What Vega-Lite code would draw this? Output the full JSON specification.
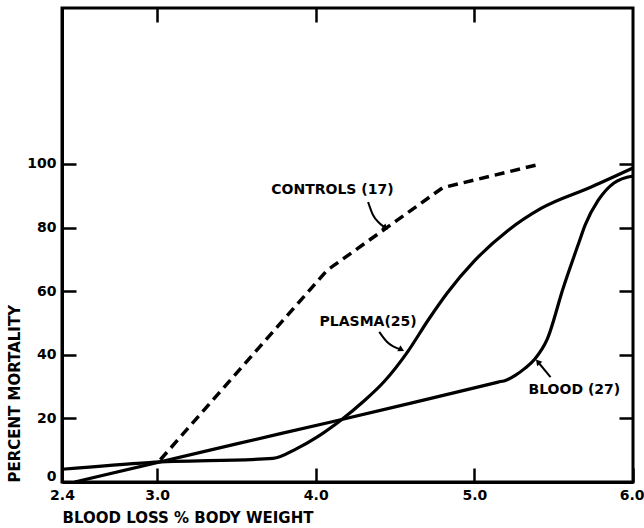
{
  "$schema": "https://vega.github.io/schema/vega-lite/v6.json",
  "width": 571,
  "height": 474,
  "autosize": {"type": "none"},
  "padding": {"left": 62, "top": 8, "right": 11, "bottom": 46},
  "background": "white",
  "config": {
    "font": "DejaVu Sans",
    "view": {"stroke": "black", "strokeWidth": 3},
    "axis": {
      "grid": false,
      "domainColor": "black",
      "domainWidth": 3,
      "tickColor": "black",
      "tickWidth": 2.5,
      "tickSize": -14,
      "labelColor": "black",
      "titleColor": "black",
      "labelFont": "DejaVu Sans",
      "titleFont": "DejaVu Sans",
      "labelFontWeight": "bold",
      "titleFontWeight": "bold",
      "labelFontSize": 14,
      "titleFontSize": 15,
      "labelFlush": false,
      "labelOverlap": false
    },
    "text": {"font": "DejaVu Sans", "fontWeight": "bold", "fontSize": 14, "color": "black"}
  },
  "layer": [
    {
      "data": {"values": [
        {"x": 3.02, "y": 7.0},
        {"x": 4.07, "y": 66.5},
        {"x": 4.8, "y": 92.5},
        {"x": 5.42, "y": 100}
      ]},
      "mark": {"type": "line", "color": "black", "strokeWidth": 3.5, "strokeDash": [10, 6], "interpolate": "linear"},
      "encoding": {
        "x": {"field": "x", "type": "quantitative", "scale": {"domain": [2.4, 6.0], "nice": false, "zero": false},
          "axis": {"orient": "bottom", "values": [2.4, 3, 4, 5, 6], "format": ".1f", "title": "BLOOD LOSS % BODY WEIGHT", "titleAnchor": "start", "titlePadding": 8, "labelPadding": 20,
            "labelAlign": {"condition": {"test": "datum.value == 6", "value": "right"}, "value": "center"},
            "labelOffset": {"condition": {"test": "datum.value == 6", "value": 11}, "value": 0}}},
        "y": {"field": "y", "type": "quantitative", "scale": {"domain": [0, 149], "nice": false, "zero": false},
          "axis": {"orient": "left", "values": [0, 20, 40, 60, 80, 100], "title": "PERCENT MORTALITY", "titleAnchor": "start", "labelPadding": 20, "titlePadding": 4,
            "labelOffset": {"condition": {"test": "datum.value == 0", "value": -6}, "value": 0}}}
      }
    },
    {
      "data": {"values": [
        {"series": "plasma", "x": 2.4, "y": 4.0},
        {"series": "plasma", "x": 2.95, "y": 6.1},
        {"series": "plasma", "x": 3.73, "y": 7.4},
        {"series": "plasma", "x": 3.88, "y": 10.5},
        {"series": "plasma", "x": 4.01, "y": 14.2},
        {"series": "plasma", "x": 4.16, "y": 19.5},
        {"series": "plasma", "x": 4.3, "y": 25.3},
        {"series": "plasma", "x": 4.43, "y": 31.5},
        {"series": "plasma", "x": 4.58, "y": 41},
        {"series": "plasma", "x": 4.71, "y": 51},
        {"series": "plasma", "x": 4.83, "y": 59.5},
        {"series": "plasma", "x": 5.0, "y": 69.5},
        {"series": "plasma", "x": 5.21, "y": 79},
        {"series": "plasma", "x": 5.42, "y": 86},
        {"series": "plasma", "x": 5.74, "y": 92.8},
        {"series": "plasma", "x": 6.0, "y": 98.7},
        {"series": "blood", "x": 2.48, "y": 0},
        {"series": "blood", "x": 3.5, "y": 12},
        {"series": "blood", "x": 4.09, "y": 18.8},
        {"series": "blood", "x": 4.6, "y": 24.8},
        {"series": "blood", "x": 5.0, "y": 29.6},
        {"series": "blood", "x": 5.15, "y": 31.4},
        {"series": "blood", "x": 5.2, "y": 32},
        {"series": "blood", "x": 5.26, "y": 33.6},
        {"series": "blood", "x": 5.32, "y": 35.8},
        {"series": "blood", "x": 5.38, "y": 38.6},
        {"series": "blood", "x": 5.46, "y": 45},
        {"series": "blood", "x": 5.56, "y": 61},
        {"series": "blood", "x": 5.65, "y": 74},
        {"series": "blood", "x": 5.7, "y": 81},
        {"series": "blood", "x": 5.78, "y": 88.5},
        {"series": "blood", "x": 5.88, "y": 94},
        {"series": "blood", "x": 6.0, "y": 96.2}
      ]},
      "mark": {"type": "line", "color": "black", "strokeWidth": 3.2, "interpolate": "monotone"},
      "encoding": {
        "detail": {"field": "series", "type": "nominal"},
        "x": {"field": "x", "type": "quantitative", "scale": {"domain": [2.4, 6.0], "nice": false, "zero": false},
          "axis": {"orient": "top", "values": [3, 4, 5], "labels": false, "title": null, "domain": false}},
        "y": {"field": "y", "type": "quantitative", "scale": {"domain": [0, 149], "nice": false, "zero": false},
          "axis": {"orient": "right", "values": [20, 40, 60, 80, 100], "labels": false, "title": null, "domain": false}}
      }
    },
    {
      "data": {"values": [
        {"arrow": "controls", "x": 4.33, "y": 88},
        {"arrow": "controls", "x": 4.36, "y": 84},
        {"arrow": "controls", "x": 4.4, "y": 81.4},
        {"arrow": "controls", "x": 4.44, "y": 79.9},
        {"arrow": "plasma", "x": 4.4, "y": 47.2},
        {"arrow": "plasma", "x": 4.45, "y": 44},
        {"arrow": "plasma", "x": 4.54, "y": 41.6},
        {"arrow": "blood", "x": 5.48, "y": 33},
        {"arrow": "blood", "x": 5.4, "y": 37.8}
      ]},
      "mark": {"type": "line", "color": "black", "strokeWidth": 2, "interpolate": "monotone"},
      "encoding": {
        "detail": {"field": "arrow", "type": "nominal"},
        "x": {"field": "x", "type": "quantitative", "scale": {"domain": [2.4, 6.0], "nice": false, "zero": false}, "axis": null},
        "y": {"field": "y", "type": "quantitative", "scale": {"domain": [0, 149], "nice": false, "zero": false}, "axis": null}
      }
    },
    {
      "data": {"values": [{"x": 4.44, "y": 79.9}]},
      "mark": {"type": "point", "shape": "triangle-right", "filled": true, "color": "black", "size": 45, "angle": 37, "opacity": 1},
      "encoding": {
        "x": {"field": "x", "type": "quantitative", "scale": {"domain": [2.4, 6.0], "nice": false, "zero": false}, "axis": null},
        "y": {"field": "y", "type": "quantitative", "scale": {"domain": [0, 149], "nice": false, "zero": false}, "axis": null}
      }
    },
    {
      "data": {"values": [{"x": 4.54, "y": 41.6}]},
      "mark": {"type": "point", "shape": "triangle-right", "filled": true, "color": "black", "size": 45, "angle": 27, "opacity": 1},
      "encoding": {
        "x": {"field": "x", "type": "quantitative", "scale": {"domain": [2.4, 6.0], "nice": false, "zero": false}, "axis": null},
        "y": {"field": "y", "type": "quantitative", "scale": {"domain": [0, 149], "nice": false, "zero": false}, "axis": null}
      }
    },
    {
      "data": {"values": [{"x": 5.4, "y": 37.8}]},
      "mark": {"type": "point", "shape": "triangle-right", "filled": true, "color": "black", "size": 45, "angle": 230, "opacity": 1},
      "encoding": {
        "x": {"field": "x", "type": "quantitative", "scale": {"domain": [2.4, 6.0], "nice": false, "zero": false}, "axis": null},
        "y": {"field": "y", "type": "quantitative", "scale": {"domain": [0, 149], "nice": false, "zero": false}, "axis": null}
      }
    },
    {
      "data": {"values": [
        {"label": "CONTROLS (17)", "x": 4.105, "y": 91.8},
        {"label": "PLASMA(25)", "x": 4.33, "y": 50.3},
        {"label": "BLOOD (27)", "x": 5.63, "y": 28.9}
      ]},
      "mark": {"type": "text", "align": "center", "baseline": "middle"},
      "encoding": {
        "text": {"field": "label", "type": "nominal"},
        "x": {"field": "x", "type": "quantitative", "scale": {"domain": [2.4, 6.0], "nice": false, "zero": false}, "axis": null},
        "y": {"field": "y", "type": "quantitative", "scale": {"domain": [0, 149], "nice": false, "zero": false}, "axis": null}
      }
    }
  ],
  "resolve": {"axis": {"x": "independent", "y": "independent"}}
}
